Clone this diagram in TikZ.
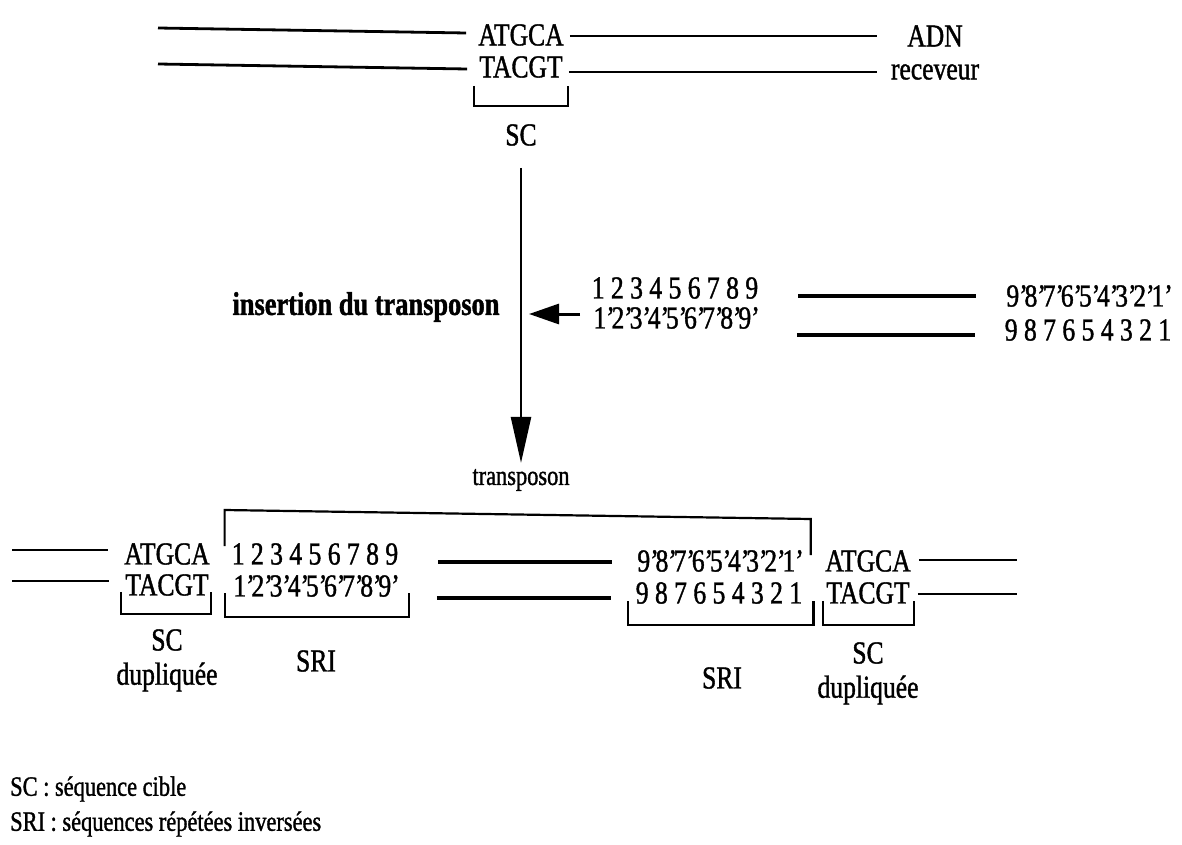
\documentclass[tikz,border=0pt]{standalone}
\usepackage{fontspec}
\setmainfont{Liberation Serif}[FakeStretch=0.8,FakeBold=1.2]
\usetikzlibrary{arrows.meta,calc}
\newcommand\pq{'\kern-0.1em}
\begin{document}
\begin{tikzpicture}[x=1pt,y=-1pt,
  txt/.style={inner sep=0pt,font=\fontsize{32}{38}\selectfont},
  small/.style={inner sep=0pt,font=\fontsize{28}{33}\selectfont},
  boldtxt/.style={inner sep=0pt,font=\fontsize{33}{39}\selectfont\bfseries},
  strand/.style={line width=2.8pt},
  bar/.style={line width=4.4pt},
  brk/.style={line width=2.2pt},
  arr/.style={line width=2.4pt,-{Triangle[length=46pt,width=20pt]}},
]
\useasboundingbox (0,0) rectangle (1182,845);

% ---- top: receiving DNA
\node[txt] (atgcaT) at (521,35) {ATGCA};
\node[txt] (tacgtT) at (521,67) {TACGT};
\node[txt] (adn) at (935,36) {ADN};
\node[txt] (rec) at (935,72) {receveur};
\node[txt] (scT) at (521,135) {SC};
\coordinate (tl1) at (158,28);
\coordinate (tl2) at (158,64);
\coordinate (tr1) at (877,36);
\coordinate (tr2) at (877,72);
\draw[strand] (tl1) -- ($(atgcaT.west)+(-12,-2)$);
\draw[strand] (tl2) -- ($(tacgtT.west)+(-12,2)$);
\draw[strand] ($(atgcaT.east)+(6,1)$) -- (tr1);
\draw[strand] ($(tacgtT.east)+(6,5)$) -- (tr2);
\draw[brk] ($(tacgtT.south west)+(-5,8)$) -- ++(0,20) -| ($(tacgtT.south east)+(5,8)$);

% ---- main arrow
\node[small] (tp) at (521,480) {transposon};
\draw[arr] ($(scT.south)+(0,22)$) -- ($(tp.north)+(0,-6)$);

% ---- transposon
\node[boldtxt] (ins) at (366,307) {insertion du transposon};
\node[txt] (n1) at (675,288) {1 2 3 4 5 6 7 8 9};
\node[txt] (n2) at (675,318) {1\pq2\pq3\pq4\pq5\pq6\pq7\pq8\pq9\pq};
\node[txt] (r1) at (1088,296) {9\pq8\pq7\pq6\pq5\pq4\pq3\pq2\pq1\pq};
\node[txt] (r2) at (1088,330) {9 8 7 6 5 4 3 2 1};
\coordinate (atip) at (529,314);
\draw[line width=3pt,-{Triangle[length=30pt,width=20pt]}] ($(n2.west)+(-13,-4)$) -- (atip);
\draw[bar] ($(n1.east)+(40,8)$) -- ($(r1.west)+(-30,0)$);
\draw[bar] ($(n2.east)+(40,17)$) -- ($(r2.west)+(-30,5)$);

% ---- bottom: after insertion
\node[txt] (atgcaL) at (167,554) {ATGCA};
\node[txt] (tacgtL) at (167,585) {TACGT};
\node[txt] (ln1) at (315,554) {1 2 3 4 5 6 7 8 9};
\node[txt] (ln2) at (315,586) {1\pq2\pq3\pq4\pq5\pq6\pq7\pq8\pq9\pq};
\node[txt] (rn1) at (719,561) {9\pq8\pq7\pq6\pq5\pq4\pq3\pq2\pq1\pq};
\node[txt] (rn2) at (719,593) {9 8 7 6 5 4 3 2 1};
\node[txt] (atgcaR) at (868,561) {ATGCA};
\node[txt] (tacgtR) at (868,593) {TACGT};

\coordinate (bl1) at (12,550);
\coordinate (bl2) at (12,581);
\coordinate (br1) at (1017,560);
\coordinate (br2) at (1017,594);
\draw[strand] (bl1) -- ($(atgcaL.west)+(-16,-4)$);
\draw[strand] (bl2) -- ($(tacgtL.west)+(-16,-4)$);
\draw[strand] ($(atgcaR.east)+(8,-1)$) -- (br1);
\draw[strand] ($(tacgtR.east)+(8,1)$) -- (br2);
\draw[bar] ($(ln1.east)+(40,8)$) -- ($(rn1.west)+(-25,1)$);
\draw[bar] ($(ln2.east)+(40,12)$) -- ($(rn2.west)+(-25,5)$);

% big transposon bracket
\draw[brk] ($(ln1.west)+(-7,-8)$) -- ++(0,-36) -- ($(rn1.east)+(10,-42)$) -- ($(rn1.east)+(10,-6)$);
% lower brackets
\draw[brk] ($(tacgtL.south west)+(-4,-4)$) -- ++(0,22) -| ($(tacgtL.south east)+(2,-4)$);
\draw[brk] ($(ln2.south west)+(-8,-4)$) -- ++(0,24) -| ($(ln2.south east)+(12,-4)$);
\draw[brk] ($(rn2.south west)+(-8,-3)$) -- ++(0,24) -| ($(rn2.south east)+(11,-3)$);
\draw[brk] ($(tacgtR.south west)+(-3,-3)$) -- ++(0,24) -| ($(tacgtR.south east)+(4,-3)$);

\node[txt] (scL) at (167,640) {SC};
\node[txt] (dupL) at (167,677) {dupliquée};
\node[txt] (sriL) at (316,661) {SRI};
\node[txt] (sriR) at (722,678) {SRI};
\node[txt] (scR) at (868,653) {SC};
\node[txt] (dupR) at (868,690) {dupliquée};

% ---- legend
\node[small,anchor=west] (leg1) at (10,789) {SC : séquence cible};
\node[small,anchor=west] (leg2) at (10,824) {SRI : séquences répétées inversées};
\end{tikzpicture}
\end{document}
